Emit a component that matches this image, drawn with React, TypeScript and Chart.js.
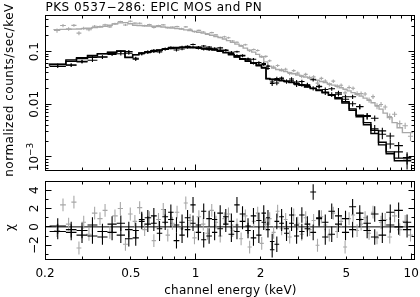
import React, { useEffect, useRef } from "react";
import { Chart, registerables } from "chart.js";

Chart.register(...registerables);

// ---------- texts ----------
const TITLE = "PKS 0537\u2212286: EPIC MOS and PN";
const X_TITLE = "channel energy (keV)";
const Y_TITLE_TOP = "normalized counts/sec/keV";
const Y_TITLE_BOTTOM = "\u03c7";

// ---------- axis ranges / ticks ----------
const X_MIN = 0.2;
const X_MAX = 10.3;
const Y_TOP_MIN = 5.66e-4;
const Y_TOP_MAX = 0.487;
const Y_RES_MIN = -3.5;
const Y_RES_MAX = 5.0;

const X_TICK_VALUES = [0.2, 0.5, 1, 2, 5, 10];
const X_TICK_TEXT = ["0.2", "0.5", "1", "2", "5", "10"];
const Y_TOP_TICK_VALUES = [0.1, 0.01, 0.001];
const Y_TOP_TICK_TEXT = ["0.1", "0.01", "10"];
const Y_TOP_TICK_SUP = ["", "", "\u22123"];
const Y_RES_TICK_VALUES = [4, 2, 0, -2];
const Y_RES_TICK_TEXT = ["4", "2", "0", "\u22122"];
const Y_RES_MINOR = [-3, -1, 1, 3];

// ---------- EPIC pn (grey) ----------
const PN_EDGES = [
  0.22, 0.235, 0.25, 0.265, 0.28, 0.295, 0.31, 0.33, 0.35, 0.37,
  0.39, 0.41, 0.435, 0.46, 0.485, 0.51, 0.535, 0.565, 0.595, 0.625,
  0.655, 0.69, 0.725, 0.76, 0.8, 0.84, 0.88, 0.92, 0.965, 1.01,
  1.06, 1.11, 1.16, 1.215, 1.27, 1.33, 1.39, 1.45, 1.52, 1.59,
  1.66, 1.74, 1.82, 1.9, 1.98, 2.07, 2.16, 2.25, 2.35, 2.45,
  2.56, 2.67, 2.79, 2.91, 3.04, 3.17, 3.31, 3.45, 3.6, 3.75,
  3.91, 4.08, 4.26, 4.44, 4.63, 4.83, 5.04, 5.26, 5.49, 5.73,
  5.98, 6.24, 6.51, 6.79, 7.09, 7.4, 7.75, 8.15, 8.6, 9.1,
  9.65, 10.2,
];
const PN_MODEL = [
  0.262, 0.263, 0.265, 0.266, 0.268, 0.27, 0.274, 0.279, 0.286, 0.295,
  0.305, 0.318, 0.338, 0.352, 0.356, 0.34, 0.318, 0.315, 0.312, 0.308,
  0.304, 0.3, 0.295, 0.289, 0.282, 0.275, 0.268, 0.26, 0.252, 0.243,
  0.234, 0.225, 0.215, 0.205, 0.195, 0.185, 0.174, 0.162, 0.15, 0.139,
  0.128, 0.117, 0.107, 0.098, 0.089, 0.08, 0.064, 0.053, 0.049, 0.046,
  0.044, 0.042, 0.04, 0.038, 0.036, 0.0345, 0.033, 0.0315, 0.03, 0.0286,
  0.0272, 0.0258, 0.0245, 0.0232, 0.0219, 0.0206, 0.0193, 0.018, 0.0167, 0.0155,
  0.0143, 0.0131, 0.0119, 0.0107, 0.0094, 0.0081, 0.0068, 0.0056, 0.0045, 0.0036,
  0.0029,
];
const PN_REL_ERR = [
  0.09, 0.08, 0.08, 0.07, 0.07, 0.065, 0.06, 0.06, 0.055, 0.055,
  0.05, 0.05, 0.05, 0.045, 0.045, 0.045, 0.045, 0.045, 0.045, 0.04,
  0.04, 0.04, 0.04, 0.04, 0.04, 0.04, 0.04, 0.04, 0.04, 0.04,
  0.04, 0.04, 0.04, 0.04, 0.04, 0.042, 0.042, 0.044, 0.045, 0.046,
  0.048, 0.05, 0.05, 0.052, 0.054, 0.056, 0.06, 0.065, 0.068, 0.07,
  0.07, 0.07, 0.07, 0.072, 0.072, 0.074, 0.075, 0.076, 0.078, 0.08,
  0.08, 0.082, 0.084, 0.086, 0.088, 0.09, 0.092, 0.095, 0.098, 0.1,
  0.1, 0.105, 0.11, 0.11, 0.115, 0.12, 0.125, 0.13, 0.14, 0.15,
  0.16,
];
const PN_CHI = [
  -0.4, 2.4, 0.3, 2.7, -2.3, 0.5, -0.8, 1.5, 0.9, 1.8,
  -0.6, 1.2, 2.0, -1.9, 1.4, 0.6, 2.1, -0.3, 1.0, -1.5,
  0.8, 1.9, -0.9, 0.4, 1.6, -0.2, 2.6, 0.7, -1.2, 1.1,
  0.3, -0.7, 1.8, 0.5, -1.0, 0.9, 1.4, -0.4, 0.2, -1.3,
  1.2, -2.2, 0.6, 1.5, -1.8, 0.3, 0.9, -0.6, 1.7, -0.2,
  0.8, -1.1, 1.3, 0.4, -0.8, 1.0, -0.3, 0.7, -2.0, 1.1,
  0.2, -0.9, 1.5, -0.5, 0.6, -2.2, 0.9, 1.3, -0.4, 0.3,
  1.0, -0.7, 1.6, -1.2, 0.5, 0.8, -1.1, 1.2, -0.3, 0.6,
  -0.9,
];
const PN_CHI_ERR = 0.7;

// ---------- EPIC MOS1 / MOS2 (black) ----------
const MOS_EDGES = [
  0.21, 0.25, 0.28, 0.315, 0.35, 0.39, 0.43, 0.47, 0.51, 0.545,
  0.58, 0.62, 0.66, 0.7, 0.745, 0.79, 0.84, 0.89, 0.945, 1.0,
  1.06, 1.12, 1.19, 1.26, 1.34, 1.42, 1.51, 1.6, 1.7, 1.8,
  1.91, 2.02, 2.12, 2.21, 2.32, 2.44, 2.57, 2.71, 2.86, 3.02,
  3.2, 3.4, 3.62, 3.86, 4.13, 4.43, 4.77, 5.15, 5.55, 6.0,
  6.5, 7.05, 7.65, 8.35, 9.15, 10.0,
];
const MOS1_MODEL = [
  0.056, 0.058, 0.066, 0.074, 0.083, 0.091, 0.097, 0.103, 0.079, 0.088,
  0.095, 0.098, 0.104, 0.108, 0.112, 0.117, 0.12, 0.121, 0.122, 0.121,
  0.12, 0.117, 0.114, 0.11, 0.104, 0.097, 0.089, 0.08, 0.074, 0.067,
  0.061, 0.055, 0.05, 0.031, 0.03, 0.0295, 0.0285, 0.0275, 0.0262, 0.0248,
  0.0233, 0.0218, 0.0203, 0.0187, 0.017, 0.0152, 0.0133, 0.0112, 0.0082, 0.0062,
  0.0045, 0.0032, 0.0019, 0.00125, 0.00095,
];
const MOS2_MODEL = [
  0.054, 0.057, 0.07, 0.077, 0.085, 0.092, 0.098, 0.102, 0.077, 0.087,
  0.094, 0.099, 0.103, 0.107, 0.111, 0.115, 0.118, 0.12, 0.12, 0.119,
  0.118, 0.115, 0.112, 0.108, 0.102, 0.095, 0.087, 0.079, 0.072, 0.066,
  0.06, 0.054, 0.049, 0.0305, 0.0296, 0.029, 0.028, 0.027, 0.0258, 0.0244,
  0.0229, 0.0214, 0.0199, 0.0183, 0.0166, 0.0148, 0.0128, 0.0106, 0.0077, 0.0058,
  0.0041, 0.0028, 0.0017, 0.00115, 0.00085,
];
const MOS_REL_ERR = [
  0.06, 0.07, 0.07, 0.07, 0.07, 0.065, 0.065, 0.06, 0.07, 0.065,
  0.06, 0.06, 0.06, 0.055, 0.055, 0.055, 0.05, 0.05, 0.05, 0.05,
  0.05, 0.05, 0.05, 0.05, 0.05, 0.05, 0.05, 0.055, 0.055, 0.06,
  0.06, 0.065, 0.065, 0.08, 0.08, 0.08, 0.08, 0.08, 0.085, 0.085,
  0.09, 0.09, 0.09, 0.095, 0.095, 0.1, 0.1, 0.11, 0.12, 0.13,
  0.15, 0.17, 0.2, 0.24, 0.3,
];
const MOS1_CHI = [
  0.1, -0.6, -0.4, -1.0, -0.5, 0.3, -0.9, -0.3, -1.2, 0.6,
  1.0, 0.4, -0.2, 1.1, 0.8, -1.5, 0.5, -0.3, 2.4, 0.2,
  -1.4, 0.9, -0.6, 1.5, 0.3, -0.8, 2.4, 0.6, -0.4, 1.2,
  -0.9, 0.5, 1.0, -2.5, -1.9, 0.4, -0.7, 1.3, 0.2, -0.5,
  -0.2, 3.8, 0.9, -1.1, 1.7, 0.3, -0.6, 2.2, 0.8, -0.4,
  1.4, -0.9, 1.6, 0.0, -0.3,
];
const MOS2_CHI = [
  -0.5, -0.3, -0.9, 0.2, -1.1, -0.6, 0.4, -1.3, -0.4, 0.8,
  0.3, 1.2, -0.7, 0.5, 1.6, 0.2, -0.9, 1.0, 0.4, -0.6,
  1.7, -1.0, 0.8, -0.2, 1.1, 0.6, -0.5, 1.4, 0.1, -1.2,
  0.7, 1.5, -0.3, -1.6, 0.6, 1.1, -0.2, 0.4, -1.0, 1.3,
  0.3, -0.6, 1.0, 0.5, -0.8, 1.2, 0.9, -0.3, 1.5, 0.4,
  -1.1, 0.7, 0.2, 1.8, 0.5,
];
const MOS_CHI_ERR = 0.85;

// ---------- styles ----------
const GREY = "#a8a8a8";
const BLACK = "#000000";
const FONT_FAMILY = '"DejaVu Sans", "Liberation Sans", sans-serif';

type Pt = { x: number; y: number; xlo: number; xhi: number; ylo: number; yhi: number };

function spectrumPoints(edges: number[], model: number[], chi: number[], rel: number[]): Pt[] {
  return model.map((m, i) => {
    const lo = edges[i];
    const hi = edges[i + 1];
    const sigma = m * rel[i];
    const y = m + chi[i] * sigma;
    return { x: Math.sqrt(lo * hi), y, xlo: lo, xhi: hi, ylo: y - sigma, yhi: y + sigma };
  });
}

function residualPoints(edges: number[], chi: number[], err: number): Pt[] {
  return chi.map((c, i) => {
    const lo = edges[i];
    const hi = edges[i + 1];
    return { x: Math.sqrt(lo * hi), y: c, xlo: lo, xhi: hi, ylo: c - err, yhi: c + err };
  });
}

function stepPoints(edges: number[], model: number[]) {
  return edges.map((e, i) => ({ x: e, y: model[Math.min(i, model.length - 1)] }));
}

function snap(v: number) {
  return Math.round(v - 0.5) + 0.5;
}

function logTicks(min: number, max: number) {
  const out: { v: number; major: boolean }[] = [];
  for (let e = -5; e <= 2; e++) {
    const d = Math.pow(10, e);
    for (let m = 1; m <= 9; m++) {
      const v = m * d;
      if (v >= min * 0.9999 && v <= max * 1.0001) out.push({ v, major: m === 1 });
    }
  }
  return out;
}

const errorBarPlugin = {
  id: "errorBars",
  afterDatasetDraw(chart: any, args: any) {
    const ds: any = chart.data.datasets[args.index];
    if (!ds.errorBars) return;
    const { ctx, chartArea: a, scales } = chart;
    const xs = scales.x;
    const ys = scales.y;
    ctx.save();
    ctx.beginPath();
    ctx.rect(a.left, a.top, a.right - a.left, a.bottom - a.top);
    ctx.clip();
    ctx.strokeStyle = ds.errColor;
    ctx.lineWidth = ds.errWidth;
    ctx.beginPath();
    for (const p of ds.data as Pt[]) {
      const px = xs.getPixelForValue(p.x);
      const py = ys.getPixelForValue(p.y);
      ctx.moveTo(xs.getPixelForValue(p.xlo), py);
      ctx.lineTo(xs.getPixelForValue(p.xhi), py);
      ctx.moveTo(px, ys.getPixelForValue(p.ylo));
      ctx.lineTo(px, ys.getPixelForValue(p.yhi));
    }
    ctx.stroke();
    ctx.restore();
  },
};

function drawFrame(chart: any, yTicks: { v: number; major: boolean }[]) {
  const { ctx, chartArea: a, scales } = chart;
  const L = snap(a.left);
  const R = snap(a.right);
  const T = snap(a.top);
  const B = snap(a.bottom);
  ctx.save();
  ctx.strokeStyle = BLACK;
  ctx.lineWidth = 1;
  ctx.strokeRect(L, T, R - L, B - T);
  ctx.beginPath();
  for (const t of logTicks(X_MIN, X_MAX)) {
    const px = snap(scales.x.getPixelForValue(t.v));
    if (px <= L + 0.5 || px >= R - 0.5) continue;
    const len = t.major ? 6 : 3;
    ctx.moveTo(px, B);
    ctx.lineTo(px, B - len);
    ctx.moveTo(px, T);
    ctx.lineTo(px, T + len);
  }
  for (const t of yTicks) {
    const py = snap(scales.y.getPixelForValue(t.v));
    if (py <= T + 0.5 || py >= B - 0.5) continue;
    const len = t.major ? 6 : 3;
    ctx.moveTo(L, py);
    ctx.lineTo(L + len, py);
    ctx.moveTo(R, py);
    ctx.lineTo(R - len, py);
  }
  ctx.stroke();
  ctx.restore();
}

function rotatedLabel(ctx: any, text: string, sup: string, x: number, y: number, size: number, spacing = "0px") {
  ctx.save();
  ctx.translate(x, y);
  ctx.rotate(-Math.PI / 2);
  ctx.fillStyle = BLACK;
  ctx.textBaseline = "alphabetic";
  ctx.letterSpacing = spacing;
  ctx.font = `${size}px ${FONT_FAMILY}`;
  const w1 = ctx.measureText(text).width;
  let w2 = 0;
  if (sup) {
    ctx.font = `${size * 0.75}px ${FONT_FAMILY}`;
    w2 = ctx.measureText(sup).width;
  }
  const start = -(w1 + w2) / 2;
  ctx.textAlign = "left";
  ctx.font = `${size}px ${FONT_FAMILY}`;
  ctx.fillText(text, start, 0);
  if (sup) {
    ctx.font = `${size * 0.75}px ${FONT_FAMILY}`;
    ctx.fillText(sup, start + w1, -5);
  }
  ctx.restore();
}

const topDecor = {
  id: "topDecor",
  afterDraw(chart: any) {
    const { ctx, scales } = chart;
    const yt = logTicks(Y_TOP_MIN, Y_TOP_MAX);
    drawFrame(chart, yt);
    ctx.save();
    ctx.fillStyle = BLACK;
    ctx.font = `12px ${FONT_FAMILY}`;
    ctx.textAlign = "left";
    ctx.textBaseline = "alphabetic";
    (ctx as any).letterSpacing = "0.5px";
    ctx.fillText(TITLE, 45.5, 10.5);
    ctx.restore();
    Y_TOP_TICK_VALUES.forEach((v, i) => {
      rotatedLabel(ctx, Y_TOP_TICK_TEXT[i], Y_TOP_TICK_SUP[i], 37.5, scales.y.getPixelForValue(v), 12);
    });
    rotatedLabel(ctx, Y_TITLE_TOP, "", 12.7, 90, 12, "0.5px");
  },
};

const bottomDecor = {
  id: "bottomDecor",
  afterDraw(chart: any) {
    const { ctx, scales, chartArea: a } = chart;
    const yt = [
      ...Y_RES_TICK_VALUES.map((v) => ({ v, major: true })),
      ...Y_RES_MINOR.map((v) => ({ v, major: false })),
    ];
    drawFrame(chart, yt);
    Y_RES_TICK_VALUES.forEach((v, i) => {
      rotatedLabel(ctx, Y_RES_TICK_TEXT[i], "", 37.5, scales.y.getPixelForValue(v), 12);
    });
    rotatedLabel(ctx, Y_TITLE_BOTTOM, "", 13.8, 51.5, 12);
    ctx.save();
    ctx.fillStyle = BLACK;
    ctx.font = `12px ${FONT_FAMILY}`;
    ctx.textAlign = "center";
    ctx.textBaseline = "alphabetic";
    X_TICK_VALUES.forEach((v, i) => {
      ctx.fillText(X_TICK_TEXT[i], scales.x.getPixelForValue(v), 101);
    });
    (ctx as any).letterSpacing = "0.2px";
    ctx.fillText(X_TITLE, (a.left + a.right) / 2 + 1, 118);
    ctx.restore();
  },
};

function lineDs(data: any[], color: string, width: number, stepped: any = false) {
  return {
    data,
    borderColor: color,
    borderWidth: width,
    pointRadius: 0,
    fill: false,
    tension: 0,
    stepped,
    showLine: true,
  };
}

function barDs(data: Pt[], color: string, width: number) {
  return {
    data,
    showLine: false,
    pointRadius: 0,
    borderColor: color,
    errorBars: true,
    errColor: color,
    errWidth: width,
  };
}

export default function App() {
  const topRef = useRef<HTMLCanvasElement>(null);
  const botRef = useRef<HTMLCanvasElement>(null);

  useEffect(() => {
    const pnPts = spectrumPoints(PN_EDGES, PN_MODEL, PN_CHI, PN_REL_ERR);
    const m1Pts = spectrumPoints(MOS_EDGES, MOS1_MODEL, MOS1_CHI, MOS_REL_ERR);
    const m2Pts = spectrumPoints(MOS_EDGES, MOS2_MODEL, MOS2_CHI, MOS_REL_ERR);

    const common: any = {
      responsive: false,
      animation: false,
      devicePixelRatio: 1,
      events: [],
      plugins: { legend: { display: false }, tooltip: { enabled: false }, title: { display: false } },
    };

    const top = new Chart(topRef.current as HTMLCanvasElement, {
      type: "line",
      data: {
        datasets: [
          lineDs(stepPoints(MOS_EDGES, MOS1_MODEL), BLACK, 1.4, "after"),
          lineDs(stepPoints(MOS_EDGES, MOS2_MODEL), BLACK, 1.4, "after"),
          barDs(m1Pts, BLACK, 1.1),
          barDs(m2Pts, BLACK, 1.1),
          lineDs(stepPoints(PN_EDGES, PN_MODEL), GREY, 1.4, "after"),
          barDs(pnPts, GREY, 1.1),
        ] as any,
      },
      options: {
        ...common,
        layout: { padding: { left: 45, right: 6, top: 15.5, bottom: 6 } },
        scales: {
          x: { type: "logarithmic", min: X_MIN, max: X_MAX, display: false },
          y: { type: "logarithmic", min: Y_TOP_MIN, max: Y_TOP_MAX, display: false },
        },
      },
      plugins: [errorBarPlugin, topDecor],
    } as any);

    const bot = new Chart(botRef.current as HTMLCanvasElement, {
      type: "line",
      data: {
        datasets: [
          barDs(residualPoints(MOS_EDGES, MOS1_CHI, MOS_CHI_ERR), BLACK, 1.1),
          barDs(residualPoints(MOS_EDGES, MOS2_CHI, MOS_CHI_ERR), BLACK, 1.1),
          barDs(residualPoints(PN_EDGES, PN_CHI, PN_CHI_ERR), GREY, 1.1),
          lineDs([{ x: X_MIN, y: 0 }, { x: X_MAX, y: 0 }], BLACK, 1),
        ] as any,
      },
      options: {
        ...common,
        layout: { padding: { left: 45, right: 6, top: 5, bottom: 38 } },
        scales: {
          x: { type: "logarithmic", min: X_MIN, max: X_MAX, display: false },
          y: { type: "linear", min: Y_RES_MIN, max: Y_RES_MAX, display: false },
        },
      },
      plugins: [errorBarPlugin, bottomDecor],
    } as any);

    return () => {
      top.destroy();
      bot.destroy();
    };
  }, []);

  return (
    <div style={{ position: "absolute", left: 0, top: 0, width: 420, height: 297, background: "#ffffff" }}>
      <canvas
        ref={topRef}
        width={420}
        height={176}
        style={{ position: "absolute", left: 0, top: 0, width: 420, height: 176 }}
      />
      <canvas
        ref={botRef}
        width={420}
        height={121}
        style={{ position: "absolute", left: 0, top: 176, width: 420, height: 121 }}
      />
    </div>
  );
}
